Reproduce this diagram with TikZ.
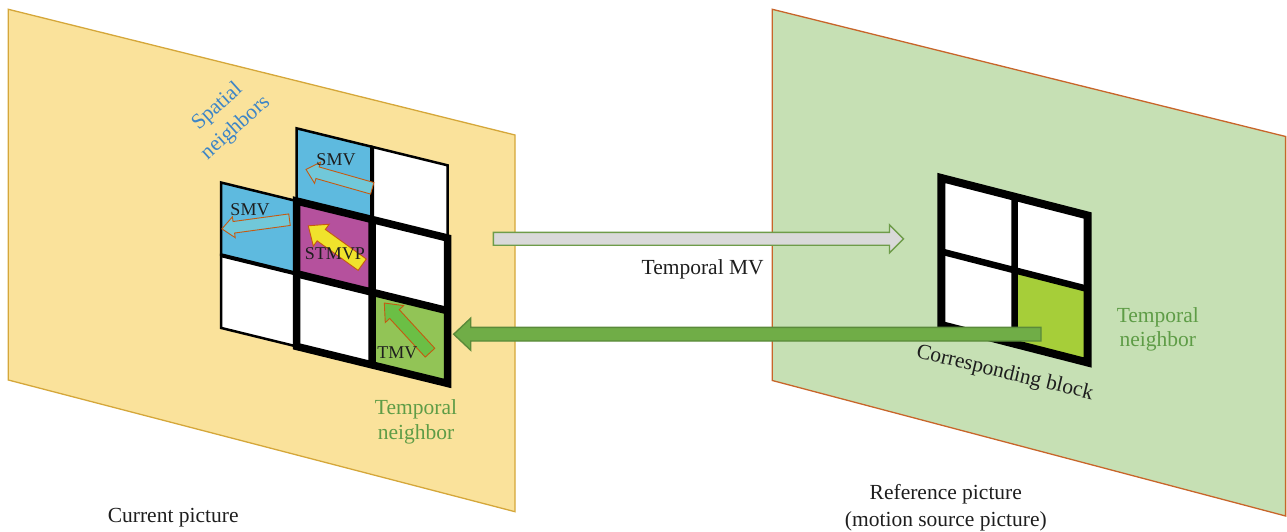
\documentclass[tikz,border=0pt]{standalone}
\usepackage{fontspec}
\setmainfont{Liberation Serif}
\definecolor{ypanel}{HTML}{FAE29B}
\definecolor{yedge}{HTML}{D5A73A}
\definecolor{gpanel}{HTML}{C6E0B4}
\definecolor{gedge}{HTML}{C8652A}
\definecolor{cblue}{HTML}{5EBADF}
\definecolor{cpurple}{HTML}{B5519D}
\definecolor{cgreen}{HTML}{92C456}
\definecolor{rgreen}{HTML}{A6CE39}
\definecolor{mvcyan}{HTML}{71C8D9}
\definecolor{mvyellow}{HTML}{F0E22C}
\definecolor{mvgreen}{HTML}{6BBF45}
\definecolor{mvedge}{HTML}{C55A11}
\definecolor{grayfill}{HTML}{D9D9D9}
\definecolor{grayedge}{HTML}{6E9C49}
\definecolor{bigfill}{HTML}{70AD47}
\definecolor{bigedge}{HTML}{5A8A3A}
\definecolor{spblue}{HTML}{3D85C6}
\definecolor{tpgreen}{HTML}{5E9C46}
\definecolor{txt}{HTML}{1E1E1E}
\newcommand{\blkarrow}[7]{\draw[#1, shift={#2}, rotate=#3] (0,#5) -- ({#4-#7},#5) -- ({#4-#7},#6) -- (#4,0) -- ({#4-#7},-#6) -- ({#4-#7},-#5) -- (0,-#5) -- cycle;}
\newcommand{\cellq}[3]{\path[#1] (#2,#3) -- ++(1,0) -- ++(0,1) -- ++(-1,0) -- cycle;}
\tikzset{
  lbl/.style={font=\fontsize{21.5}{25.5}\selectfont, inner sep=0pt, text=txt},
  clbl/.style={font=\fontsize{18}{20}\selectfont, inner sep=0pt, text=txt},
  cellthin/.style={draw=black, line width=2.5pt},
  cellmed/.style={draw=black, line width=4pt},
  cellthick/.style={draw=black, line width=7.5pt},
  mvarr/.style={draw=mvedge, line width=0.9pt},
  grayarr/.style={draw=grayedge, fill=grayfill, line width=1.4pt},
  greenarr/.style={draw=bigedge, fill=bigfill, line width=1.4pt},
}
\begin{document}
\begin{tikzpicture}[x=1pt,y=-1pt,line join=miter]
\useasboundingbox (0,0) rectangle (1287,532);
% panels
\path[draw=yedge, fill=ypanel, line width=1.3pt] (8.3,9.3) -- (515,135) -- (515,511.7) -- (8.3,380) -- cycle;
\path[draw=gedge, fill=gpanel, line width=1.3pt] (772.3,9.3) -- (1285.6,136.5) -- (1285.6,516) -- (772.3,380.5) -- cycle;
% current picture grid
\begin{scope}[shift={(221,109.8)}, x={(75.5pt,-18.5pt)}, y={(0pt,-72.7pt)}]
  \cellq{cellthin, fill=cblue}{1}{0}
  \cellq{cellthin, fill=white}{2}{0}
  \cellq{cellthin, fill=cblue}{0}{1}
  \cellq{cellthin, fill=cpurple}{1}{1}
  \cellq{cellthin, fill=white}{2}{1}
  \cellq{cellthin, fill=white}{0}{2}
  \cellq{cellthin, fill=white}{1}{2}
  \cellq{cellthin, fill=cgreen}{2}{2}
  \draw[cellmed] (2,0) -- (2,1) (0,2) -- (1,2);
  \draw[cellthick] (1,1) -- (3,1) -- (3,3) -- (1,3) -- cycle;
  \draw[cellthick] (2,1) -- (2,3) (1,2) -- (3,2);
\end{scope}
% reference picture grid
\begin{scope}[shift={(941.3,178)}, x={(73.2pt,-18.75pt)}, y={(0pt,-73.5pt)}]
  \cellq{fill=white}{0}{0}
  \cellq{fill=white}{1}{0}
  \cellq{fill=white}{0}{1}
  \cellq{fill=rgreen}{1}{1}
  \draw[draw=black, line width=6.5pt] (1,0) -- (1,2) (0,1) -- (2,1);
  \draw[draw=black, line width=8pt] (0,0) -- (2,0) -- (2,2) -- (0,2) -- cycle;
\end{scope}
% motion vectors in cells
\blkarrow{mvarr, fill=mvcyan}{(372.2,188.3)}{164.1}{68.8}{6}{11}{12}
\blkarrow{mvarr, fill=mvcyan}{(289.5,219.7)}{187.75}{68.2}{5.8}{10.5}{12}
\blkarrow{mvarr, fill=mvyellow}{(362.2,264.7)}{144.2}{66.5}{7}{13.5}{16}
\blkarrow{mvarr, fill=mvgreen}{(430,352.7)}{132.6}{67.5}{6.5}{12.5}{15}
% cell labels
\node[clbl, anchor=base] (smvtop) at (336,165) {SMV};
\node[clbl, anchor=base] (smvleft) at (250,215) {SMV};
\node[clbl, anchor=base] (stmvp) at (335,259) {STMVP};
\node[clbl, anchor=base] (tmv) at (397.3,358.3) {TMV};
% big arrows
\coordinate (mvS) at (493.4,238.8);
\coordinate (mvE) at (903.5,238.8);
\blkarrow{grayarr}{(mvS)}{0}{410.1}{6.4}{14}{14}
\coordinate (tS) at (1041,334.2);
\coordinate (tE) at (453.7,334.2);
\blkarrow{greenarr}{(tS)}{180}{587.3}{6.8}{16}{17}
% labels
\node[lbl, anchor=base] (tmvlbl) at (702.7,274) {Temporal MV};
\node[lbl, anchor=center, rotate=42, text=spblue] (spatial1) at (217.5,107) {Spatial};
\node[lbl, anchor=center, rotate=42, text=spblue] (spatial2) at (235.8,128) {neighbors};
\node[lbl, anchor=base, text=tpgreen] (tn1) at (416,414) {Temporal};
\node[lbl, anchor=base, text=tpgreen] (tn2) at (416,439.5) {neighbor};
\node[lbl, anchor=base, text=tpgreen] (rn1) at (1157.8,322.3) {Temporal};
\node[lbl, anchor=base, text=tpgreen] (rn2) at (1157.8,346.7) {neighbor};
\node[lbl, anchor=base, rotate=-13.5] (corr) at (1003.5,378.5) {Corresponding block};
\node[lbl, anchor=base] (cur) at (173.2,522.7) {Current picture};
\node[lbl, anchor=base] (ref1) at (945.8,499.3) {Reference picture};
\node[lbl, anchor=base] (ref2) at (945.8,526) {(motion source picture)};
\end{tikzpicture}
\end{document}
